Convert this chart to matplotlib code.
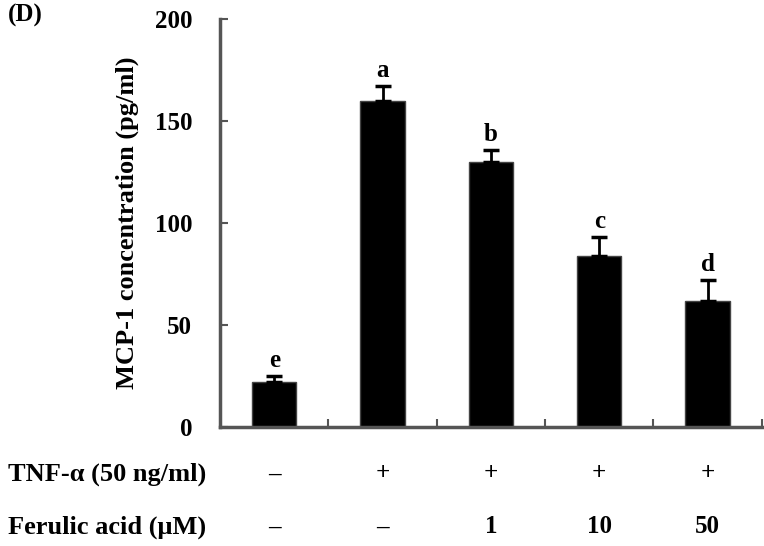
import numpy as np
import matplotlib.pyplot as plt

# values
groups = ['ctrl', 'TNF', 'FA1', 'FA10', 'FA50']
mcp1 = [22, 160, 130, 84, 62]
sem = [3, 7, 6, 9, 10]
letters = ['e', 'a', 'b', 'c', 'd']
tnf_row = ['\u2013', '+', '+', '+', '+']
fa_row = ['\u2013', '\u2013', '1', '10', '50']

plt.rcParams['font.family'] = ['Liberation Serif', 'DejaVu Serif']
plt.rcParams['font.weight'] = 'bold'

fig = plt.figure(figsize=(7.64, 5.46), dpi=100)
ax = fig.add_axes([0.288, 0.218, 0.709, 0.747])

x = np.arange(len(groups))
ax.bar(x, mcp1, width=0.41, color='black', edgecolor='#444444', linewidth=1)
ax.errorbar(x, mcp1, yerr=[np.zeros(len(sem)), sem], fmt='none',
            ecolor='black', elinewidth=2, capsize=6, capthick=2.5)
for xi, v, e, l in zip(x, mcp1, sem, letters):
    ax.text(xi, v + e + 2, l, ha='center', va='bottom', fontsize=18, fontweight='bold')

ax.set_xlim(-0.5, 4.5)
ax.set_ylim(0, 200)
ax.set_yticks([0, 50, 100, 150, 200])
ax.set_xticks([0.5, 1.5, 2.5, 3.5, 4.5])
ax.set_xticklabels([])
ax.tick_params(axis='both', direction='in', length=6, width=1.5, colors='#555555',
               labelcolor='black', labelsize=18, pad=20)
for lab in ax.get_yticklabels():
    lab.set_fontweight('bold')
for s in ['top', 'right']:
    ax.spines[s].set_visible(False)
for s in ['left', 'bottom']:
    ax.spines[s].set_color('#555555')
    ax.spines[s].set_linewidth(2.5)

ax.set_ylabel('MCP-1 concentration (pg/ml)', fontsize=19, fontweight='bold', labelpad=11)

# treatment rows below the axis
trans = ax.get_xaxis_transform()
fig.text(0.01, 1 - 474 / 546, 'TNF-\u03b1 (50 ng/ml)', fontsize=19, fontweight='bold', va='center')
fig.text(0.01, 1 - 527 / 546, 'Ferulic acid (\u03bcM)', fontsize=19, fontweight='bold', va='center')
for xi, t, f in zip(x, tnf_row, fa_row):
    ax.text(xi, -0.115, t, transform=trans, ha='center', va='center', fontsize=18, fontweight='bold')
    ax.text(xi, -0.245, f, transform=trans, ha='center', va='center', fontsize=18, fontweight='bold')

fig.text(0.01, 1 - 15 / 546, '(D)', fontsize=18, fontweight='bold', va='center')

fig.savefig('out.png', dpi=100)
